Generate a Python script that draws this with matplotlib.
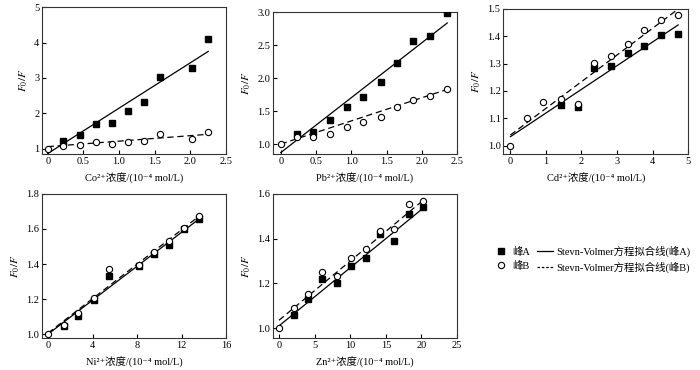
import matplotlib
matplotlib.use('Agg')
import matplotlib.pyplot as plt
import numpy as np
from matplotlib.lines import Line2D

plt.rcParams['font.family'] = ['Liberation Serif', 'DejaVu Serif', 'Noto Sans CJK SC']
plt.rcParams['mathtext.fontset'] = 'stix'

# Co2+
co_x_a = [0.22, 0.45, 0.67, 0.9, 1.12, 1.35, 1.57, 2.02, 2.25]
co_y_a = [1.22, 1.40, 1.69, 1.73, 2.06, 2.31, 3.03, 3.27, 4.11]
co_x_b = [0, 0.22, 0.45, 0.67, 0.9, 1.12, 1.35, 1.57, 2.02, 2.25]
co_y_b = [1.0, 1.09, 1.12, 1.2, 1.14, 1.2, 1.22, 1.41, 1.27, 1.48]
co_fit_a = [0.87, 1.28]
co_fit_b = [1.065, 0.155]

# Pb2+
pb_x_a = [0.23, 0.46, 0.70, 0.94, 1.17, 1.42, 1.65, 1.88, 2.12, 2.36]
pb_y_a = [1.15, 1.19, 1.36, 1.56, 1.71, 1.94, 2.23, 2.56, 2.64, 2.99]
pb_x_b = [0, 0.23, 0.46, 0.70, 0.94, 1.17, 1.42, 1.65, 1.88, 2.12, 2.36]
pb_y_b = [1.0, 1.11, 1.11, 1.15, 1.26, 1.33, 1.41, 1.57, 1.67, 1.73, 1.84]
pb_fit_a = [0.87, 0.835]
pb_fit_b = [1.0, 0.352]

# Cd2+
cd_x_a = [1.41, 1.89, 2.36, 2.83, 3.30, 3.77, 4.24, 4.72]
cd_y_a = [1.148, 1.143, 1.284, 1.293, 1.340, 1.366, 1.406, 1.407]
cd_x_b = [0, 0.47, 0.93, 1.41, 1.89, 2.36, 2.83, 3.30, 3.77, 4.24, 4.72]
cd_y_b = [1.0, 1.10, 1.159, 1.171, 1.152, 1.301, 1.329, 1.372, 1.423, 1.460, 1.479]
cd_fit_a = [1.033, 0.0865]
cd_fit_b = [1.039, 0.0975]

# Ni2+
ni_x_a = [1.4, 2.72, 4.1, 5.45, 8.17, 9.52, 10.87, 12.2, 13.56]
ni_y_a = [1.048, 1.106, 1.196, 1.334, 1.388, 1.455, 1.507, 1.60, 1.656]
ni_x_b = [0, 1.4, 2.72, 4.1, 5.45, 8.17, 9.52, 10.87, 12.2, 13.56]
ni_y_b = [1.0, 1.05, 1.12, 1.205, 1.37, 1.397, 1.47, 1.532, 1.607, 1.672]
ni_fit_a = [1.0, 0.0484]
ni_fit_b = [1.006, 0.0491]

# Zn2+
zn_x_a = [2.08, 4.07, 6.1, 8.1, 10.1, 12.2, 14.2, 16.2, 18.2, 20.2]
zn_y_a = [1.058, 1.129, 1.220, 1.202, 1.279, 1.313, 1.422, 1.391, 1.512, 1.541]
zn_x_b = [0, 2.08, 4.07, 6.1, 8.1, 10.1, 12.2, 14.2, 16.2, 18.2, 20.2]
zn_y_b = [1.0, 1.09, 1.153, 1.252, 1.235, 1.312, 1.352, 1.433, 1.442, 1.554, 1.566]
zn_fit_a = [1.01, 0.026]
zn_fit_b = [1.035, 0.0265]

panels = [
    dict(rect=[0.06, 0.584, 0.263, 0.397], ion='Co²⁺',
         xa=co_x_a, ya=co_y_a, xb=co_x_b, yb=co_y_b, fa=co_fit_a, fb=co_fit_b,
         xlim=(-0.08, 2.5), ylim=(0.86, 5.0),
         xticks=[0, 0.5, 1.0, 1.5, 2.0, 2.5], xlabels=['0', '0.5', '1.0', '1.5', '2.0', '2.5'],
         yticks=[1, 2, 3, 4, 5], ylabels=['1', '2', '3', '4', '5']),
    dict(rect=[0.39, 0.584, 0.263, 0.384], ion='Pb²⁺',
         xa=pb_x_a, ya=pb_y_a, xb=pb_x_b, yb=pb_y_b, fa=pb_fit_a, fb=pb_fit_b,
         xlim=(-0.11, 2.5), ylim=(0.85, 3.01),
         xticks=[0, 0.5, 1.0, 1.5, 2.0, 2.5], xlabels=['0', '0.5', '1.0', '1.5', '2.0', '2.5'],
         yticks=[1.0, 1.5, 2.0, 2.5, 3.0], ylabels=['1.0', '1.5', '2.0', '2.5', '3.0']),
    dict(rect=[0.719, 0.584, 0.264, 0.392], ion='Cd²⁺',
         xa=cd_x_a, ya=cd_y_a, xb=cd_x_b, yb=cd_y_b, fa=cd_fit_a, fb=cd_fit_b,
         xlim=(-0.2, 5), ylim=(0.97, 1.5),
         xticks=[0, 1, 2, 3, 4, 5], xlabels=['0', '1', '2', '3', '4', '5'],
         yticks=[1.0, 1.1, 1.2, 1.3, 1.4, 1.5], ylabels=['1.0', '1.1', '1.2', '1.3', '1.4', '1.5']),
    dict(rect=[0.06, 0.086, 0.263, 0.39], ion='Ni²⁺',
         xa=ni_x_a, ya=ni_y_a, xb=ni_x_b, yb=ni_y_b, fa=ni_fit_a, fb=ni_fit_b,
         xlim=(-0.54, 16), ylim=(0.977, 1.8),
         xticks=[0, 4, 8, 12, 16], xlabels=['0', '4', '8', '12', '16'],
         yticks=[1.0, 1.2, 1.4, 1.6, 1.8], ylabels=['1.0', '1.2', '1.4', '1.6', '1.8']),
    dict(rect=[0.39, 0.086, 0.263, 0.39], ion='Zn²⁺',
         xa=zn_x_a, ya=zn_y_a, xb=zn_x_b, yb=zn_y_b, fa=zn_fit_a, fb=zn_fit_b,
         xlim=(-0.84, 25), ylim=(0.955, 1.6),
         xticks=[0, 5, 10, 15, 20, 25], xlabels=['0', '5', '10', '15', '20', '25'],
         yticks=[1.0, 1.2, 1.4, 1.6], ylabels=['1.0', '1.2', '1.4', '1.6']),
]

fig = plt.figure(figsize=(7, 3.7), dpi=100)

for p in panels:
    ax = fig.add_axes(p['rect'])
    xs = np.array([0, max(p['xb'])])
    ax.plot(xs, p['fa'][0] + p['fa'][1] * xs, color='black', lw=0.9, zorder=2)
    ax.plot(xs, p['fb'][0] + p['fb'][1] * xs, color='black', lw=0.9,
            linestyle=(0, (5, 3)), zorder=2)
    ax.plot(p['xa'], p['ya'], 's', color='black', ms=4, zorder=3)
    ax.plot(p['xb'], p['yb'], 'o', mfc='white', mec='black', mew=0.8, ms=4.5, zorder=4)
    ax.set_xlim(p['xlim'])
    ax.set_ylim(p['ylim'])
    ax.set_xticks(p['xticks'])
    ax.set_xticklabels(p['xlabels'])
    ax.set_yticks(p['yticks'])
    ax.set_yticklabels(p['ylabels'])
    ax.tick_params(direction='in', length=3, width=0.8, labelsize=7.5, pad=2)
    for s in ax.spines.values():
        s.set_linewidth(0.8)
        s.set_color('#333333')
    ax.set_xlabel(p['ion'] + '浓度/(10⁻⁴ mol/L)', fontsize=7.5, labelpad=5)
    ax.set_ylabel('$F_0/F$', fontsize=8, labelpad=3)

handles = [
    Line2D([], [], marker='s', color='black', ls='none', ms=4),
    Line2D([], [], marker='o', mfc='white', mec='black', mew=0.8, ls='none', ms=4.5),
    Line2D([], [], color='black', lw=0.9),
    Line2D([], [], color='black', lw=0.9, linestyle=(0, (2, 1.5))),
]
labels = ['峰A', '峰B', 'Stevn-Volmer方程拟合线(峰A)', 'Stevn-Volmer方程拟合线(峰B)']
fig.legend(handles, labels, loc='center', bbox_to_anchor=(0.845, 0.30), ncol=2,
           frameon=False, fontsize=7.5, handlelength=1.6, handletextpad=0.3,
           columnspacing=0.6, labelspacing=0.4)

fig.savefig('out.png', dpi=100)
